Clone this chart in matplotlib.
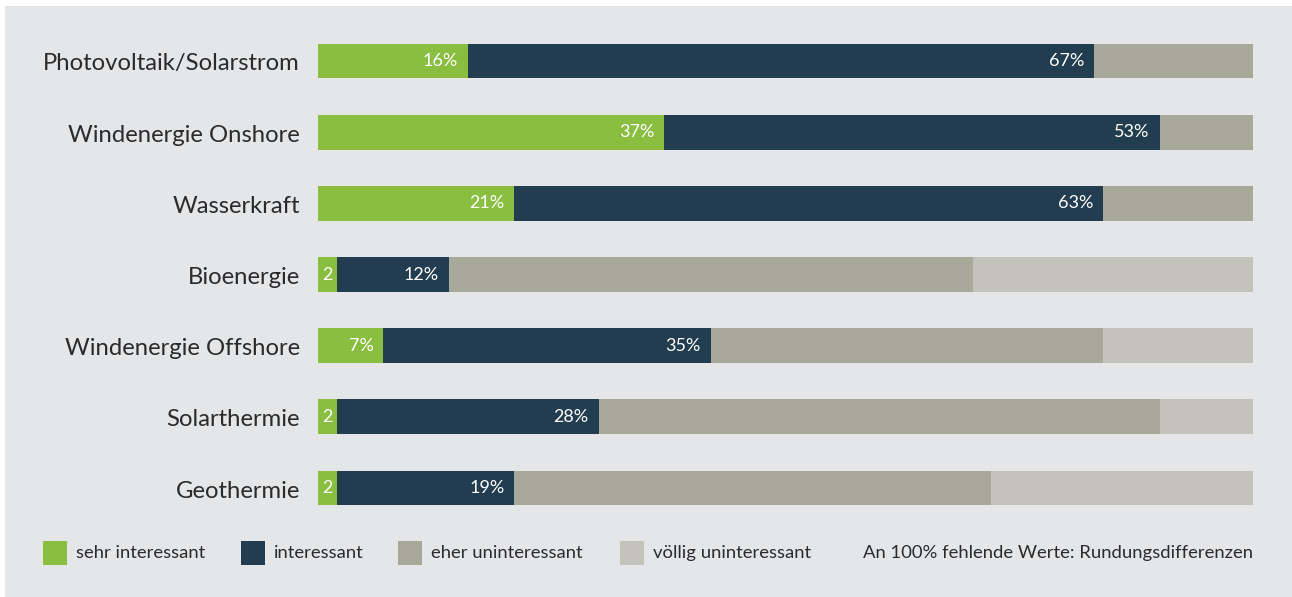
import numpy as np
import matplotlib.pyplot as plt
import matplotlib.transforms as mtransforms
from matplotlib.patches import Rectangle

# Umfrage: Interesse an erneuerbaren Energien (Anteile in %)
kategorien = ['Photovoltaik/Solarstrom', 'Windenergie Onshore', 'Wasserkraft',
              'Bioenergie', 'Windenergie Offshore', 'Solarthermie', 'Geothermie']
sehr_interessant = [16, 37, 21, 2, 7, 2, 2]
interessant = [67, 53, 63, 12, 35, 28, 19]
eher_uninteressant = [17, 10, 16, 56, 42, 60, 51]
voellig_uninteressant = [0, 0, 0, 30, 16, 10, 28]

# Beschriftungen in den Balken ('2' ohne Prozentzeichen bei schmalen Segmenten)
label_sehr = ['16%', '37%', '21%', '2', '7%', '2', '2']
label_int = ['67%', '53%', '63%', '12%', '35%', '28%', '19%']

serien = ['sehr interessant', 'interessant', 'eher uninteressant', 'völlig uninteressant']
farben = ['#89be41', '#223d4f', '#a8a89b', '#c3c3bc']
hintergrund = '#e5e6e8'
textfarbe = '#2b2b2b'
schrift = 'Lato'

W, H = 1292, 597
fig = plt.figure(figsize=(W / 100, H / 100), dpi=100)
fig.patch.set_facecolor('white')

# grauer Kasten hinter dem Diagramm
fig.patches.append(Rectangle((5 / W, 0), 1, 1 - 6 / H, transform=fig.transFigure,
                             facecolor=hintergrund, edgecolor='none', zorder=-10))

ax = fig.add_axes([318 / W, 1 - 523.6 / H, (1253 - 318) / W, (523.6 - 25.4) / H])
ax.set_facecolor('none')

y = np.arange(len(kategorien))
werte = np.array([sehr_interessant, interessant, eher_uninteressant, voellig_uninteressant], dtype=float)
links = np.zeros(len(kategorien))
for i in range(4):
    ax.barh(y, werte[i], left=links, height=0.49, color=farben[i], edgecolor='none')
    if i == 0:
        beschr = label_sehr
    elif i == 1:
        beschr = label_int
    else:
        beschr = None
    if beschr:
        for k in range(len(y)):
            ende = links[k] + werte[i][k]
            if beschr[k] == '2':
                ax.text(links[k] + werte[i][k] / 2, y[k], beschr[k], color='white',
                        ha='center', va='center', fontsize=13, family=schrift)
            else:
                ax.text(ende - 1.05, y[k], beschr[k], color='white', ha='right',
                        va='center', fontsize=13, family=schrift)
    links = links + werte[i]

ax.set_xlim(0, 100)
ax.set_ylim(len(kategorien) - 0.5, -0.5)
ax.set_xticks([])
ax.set_yticks([])
for s in ax.spines.values():
    s.set_visible(False)

# Kategorienamen links, leicht unter der Balkenmitte
trans = mtransforms.blended_transform_factory(ax.transAxes, ax.transData)
versatz = mtransforms.ScaledTranslation(0, -3 / 100, fig.dpi_scale_trans)
for k, name in enumerate(kategorien):
    ax.text(-18 / 935, y[k], name, transform=trans + versatz, ha='right', va='center',
            fontsize=17.2, color=textfarbe, family=schrift)

# Legende unten
leg_y = 1 - 553 / H
leg_x = [43, 241, 398, 620]
for i in range(4):
    fig.patches.append(Rectangle((leg_x[i] / W, 1 - 565 / H), 24 / W, 24 / H,
                                 transform=fig.transFigure, facecolor=farben[i],
                                 edgecolor='none'))
    fig.text((leg_x[i] + 33) / W, leg_y, serien[i], fontsize=13.3, color=textfarbe,
             va='center', ha='left', family=schrift)

fig.text(1253 / W, leg_y, 'An 100% fehlende Werte: Rundungsdifferenzen', fontsize=13.3,
         color=textfarbe, va='center', ha='right', family=schrift)

fig.savefig('out.png', dpi=100, facecolor=fig.get_facecolor())
